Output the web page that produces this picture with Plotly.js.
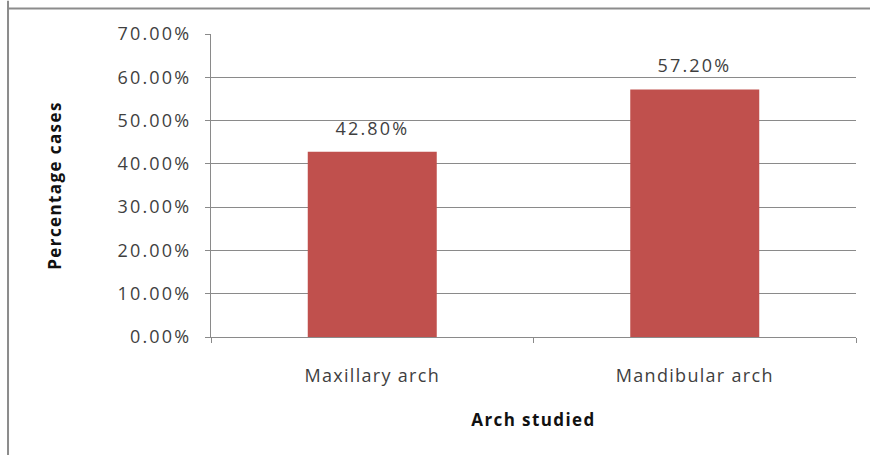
<!DOCTYPE html>
<html>
<head>
<meta charset="utf-8">
<script src="https://cdn.plot.ly/plotly-3.0.1.min.js"></script>
<style>
  html, body { margin: 0; padding: 0; background: #ffffff; }
  #chart { width: 870px; height: 455px; }
  /* slightly open tracking for the chart text */
  #chart .xtick text { letter-spacing: 1.3px; }
  #chart .ytick text, #chart .annotation-text { letter-spacing: 2.2px; }
  #chart .g-xtitle text, #chart .g-ytitle text { letter-spacing: 1.4px; }
</style>
</head>
<body>
<div id="chart"></div>
<script>
// Share of cases per dental arch
const categories = ['Maxillary arch', 'Mandibular arch'];
const percentCases = [0.428, 0.572];
const valueLabels = ['42.80%', '57.20%'];

const barColor = '#C0504D';
const gridColor = '#8a8a8a';
const labelFont = { family: 'Open Sans, sans-serif', size: 18, color: '#3f3f3f' };
const titleFont = { family: 'Open Sans, sans-serif', size: 17, color: '#111111', weight: 'bold' };

const trace = {
  type: 'bar',
  x: categories,
  y: percentCases,
  marker: { color: barColor, line: { width: 0 } },
  width: 0.4,
  hoverinfo: 'none'
};

// value labels above each bar
const valueAnnotations = categories.map((c, i) => ({
  x: c,
  y: percentCases[i],
  xref: 'x',
  yref: 'y',
  text: valueLabels[i],
  showarrow: false,
  yanchor: 'bottom',
  yshift: 10,
  font: labelFont
}));

const layout = {
  width: 870,
  height: 455,
  margin: { l: 211, r: 14, t: 34, b: 118 },
  paper_bgcolor: '#ffffff',
  plot_bgcolor: '#ffffff',
  showlegend: false,
  xaxis: {
    type: 'category',
    showline: true,
    linecolor: gridColor,
    linewidth: 1,
    ticks: 'outside',
    tickson: 'boundaries',
    ticklen: 5,
    tickcolor: gridColor,
    tickfont: labelFont,
    ticklabelstandoff: 22,
    showgrid: false,
    title: { text: 'Arch studied', font: titleFont, standoff: 28 },
    fixedrange: true
  },
  yaxis: {
    range: [0, 0.7],
    dtick: 0.1,
    tick0: 0,
    tickformat: '.2%',
    showline: true,
    linecolor: gridColor,
    linewidth: 1,
    ticks: 'outside',
    ticklen: 5,
    tickcolor: gridColor,
    tickfont: labelFont,
    ticklabelstandoff: 10,
    showgrid: true,
    gridcolor: gridColor,
    gridwidth: 1,
    zeroline: false,
    title: { text: 'Percentage cases', font: titleFont, standoff: 64 },
    fixedrange: true
  },
  annotations: valueAnnotations,
  shapes: [
    // outer chart frame (left and top edges)
    { type: 'line', xref: 'paper', yref: 'paper', x0: -0.3147, x1: -0.3147, y0: 1.11, y1: -0.5,
      line: { color: '#8c8c8c', width: 2 } },
    { type: 'line', xref: 'paper', yref: 'paper', x0: -0.3147, x1: 1.1, y0: 1.0842, y1: 1.0842,
      line: { color: '#8c8c8c', width: 2 } }
  ]
};

Plotly.newPlot('chart', [trace], layout, { displayModeBar: false, staticPlot: true });
</script>
</body>
</html>
